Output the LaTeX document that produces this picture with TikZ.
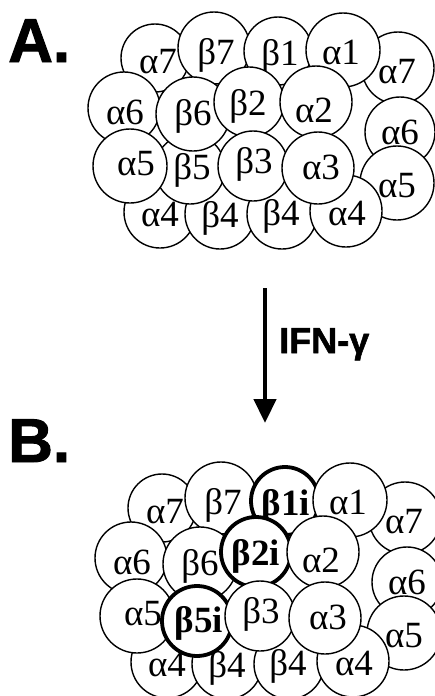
\documentclass[tikz,border=0pt]{standalone}
\usepackage{fontspec}
\setmainfont{Liberation Serif}
\newfontfamily\hdr[BoldFeatures={FakeBold=1.5}]{Liberation Sans}
\usetikzlibrary{arrows.meta}
\tikzset{
  cellc/.style={circle, draw=black, fill=white, line width=1.4pt, inner sep=0pt, outer sep=0pt},
  bold/.style={line width=3.8pt},
  celltxt/.style={inner sep=0pt, text height=24pt, text depth=0pt, font=\fontsize{37}{37}\selectfont},
  hdrtxt/.style={inner sep=0pt, anchor=base west, font=\hdr\bfseries\fontsize{62}{62}\selectfont},
  arrowlbl/.style={inner sep=0pt, anchor=base west, font=\hdr\bfseries\fontsize{36}{36}\selectfont},
}
% name, x, y, r, text x, text y, text, extra style
\newcommand\cel[8]{%
  \node[cellc,#8,minimum size={2*#4pt}] (#1) at (#2,#3) {};
  \node[celltxt] (#1-t) at (#5,#6) {#7};}
\begin{document}
\begin{tikzpicture}[x=1pt,y=-1pt]
\useasboundingbox (0,0) rectangle (435,696);
\node[hdrtxt] (labA) at (8,62) {A.};
\node[hdrtxt] (labB) at (8,462) {B.};
% ---------- Panel A
\begin{scope}
\cel{Aa7L}{155}{58}{34}{158}{61}{α7}{}
\cel{Ab7}{214}{48}{36}{216}{52}{β7}{}
\cel{Ab1}{278}{51}{34}{280}{53}{β1}{}
\cel{Aa7R}{398}{68}{36}{397}{71}{α7}{}
\cel{Aa1}{343}{50}{37}{341}{52}{α1}{}
\cel{Aa6R}{400}{132}{35}{400}{132}{α6}{}
\cel{Aa5R}{397}{183}{37}{397}{185}{α5}{}
\cel{Aa4L}{160}{212}{36}{160}{214}{α4}{}
\cel{Ab4a}{220}{214}{35}{220}{215}{β4}{}
\cel{Ab4b}{282}{214}{35}{281}{213}{β4}{}
\cel{Aa4R}{346}{211}{36}{347}{213}{α4}{}
\cel{Aa6L}{124}{108}{36}{125}{112}{α6}{}
\cel{Ab5}{190}{169}{35}{192}{167}{β5}{}
\cel{Ab6}{193}{114}{37}{193}{113}{β6}{}
\cel{Ab2}{249}{102}{35}{248}{103}{β2}{}
\cel{Aa2}{316}{102}{36}{314}{110}{α2}{}
\cel{Aa5L}{130}{166}{37}{136}{163}{α5}{}
\cel{Ab3}{253}{166}{35}{254}{161}{β3}{}
\cel{Aa3}{318}{168}{36}{321}{167}{α3}{}
\end{scope}
% ---------- arrow
\coordinate (arrS) at (265,288);
\coordinate (arrE) at (265,423);
\draw[line width=4.5pt, -{Triangle[length=24pt,width=22pt]}] (arrS) -- (arrE);
\node[arrowlbl] (ifn) at (279,353) {IFN-γ};
% ---------- Panel B
\begin{scope}[shift={(7,450)}]
\cel{Ba7L}{155}{58}{34}{158}{61}{α7}{}
\cel{Bb7}{214}{48}{36}{216}{52}{β7}{}
\cel{Bb1}{278}{51}{34}{279}{53}{\bfseries β1i}{bold}
\cel{Ba7R}{398}{68}{36}{397}{71}{α7}{}
\cel{Ba1}{343}{50}{37}{341}{52}{α1}{}
\cel{Ba6R}{400}{132}{35}{400}{132}{α6}{}
\cel{Ba5R}{397}{183}{37}{397}{185}{α5}{}
\cel{Ba4L}{160}{212}{36}{160}{214}{α4}{}
\cel{Bb4a}{220}{214}{35}{220}{215}{β4}{}
\cel{Bb4b}{282}{214}{35}{281}{213}{β4}{}
\cel{Ba4R}{346}{211}{36}{347}{213}{α4}{}
\cel{Ba6L}{124}{108}{36}{125}{112}{α6}{}
\cel{Bb6}{193}{114}{37}{193}{113}{β6}{}
\cel{Ba5L}{130}{166}{37}{136}{163}{α5}{}
\cel{Bb5}{190}{171}{35}{192}{170}{\bfseries β5i}{bold}
\cel{Bb2}{249}{102}{35}{249}{103}{\bfseries β2i}{bold}
\cel{Ba2}{316}{102}{36}{314}{110}{α2}{}
\cel{Bb3}{253}{166}{35}{254}{161}{β3}{}
\cel{Ba3}{318}{168}{36}{321}{167}{α3}{}
\end{scope}
\end{tikzpicture}
\end{document}
